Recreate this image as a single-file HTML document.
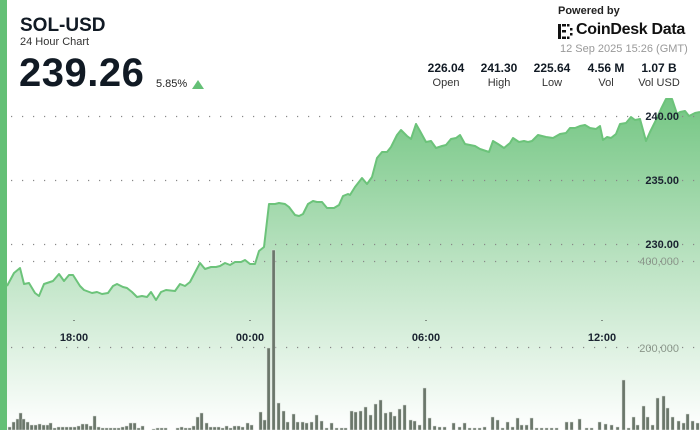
<!DOCTYPE html>
<html><head><meta charset="utf-8"><style>
body{margin:0;width:700px;height:430px;overflow:hidden;background:#fff;font-family:"Liberation Sans",sans-serif;position:relative}
.t{position:absolute;white-space:nowrap;color:#111a24}
</style></head><body>
<div style="position:absolute;left:0;top:0;width:7px;height:430px;background:#64c076"></div>
<svg width="700" height="430" style="position:absolute;left:0;top:0">
<defs><linearGradient id="g" x1="0" y1="0" x2="0" y2="1">
<stop offset="0" stop-color="#74c683"/><stop offset="0.5" stop-color="#bce3c3"/><stop offset="1" stop-color="#ffffff"/></linearGradient></defs>
<path id="p" fill="url(#g)" stroke="none" d="M7,286 L14,273 20,268 24,284 29,283 35,293 39,296 44,284 53,281 59,274 64,281 69,275 73,275 80,286 84,290 92,293 97,292 102,294 108,293 113,286 117,284 123,287 127,288 132,292 137,297 142,296 147,297 151,292 156,300 161,292 166,290 175,291 180,284 185,286 190,282 200,263 205,269 211,267 216,267 220,266 225,263 230,265 235,262 241,262 245,260 250,264 255,264 259,251 264,247 269,204 275,204 279,203 285,204 289,207 295,215 299,216 303,214 308,204 313,201 317,202 322,202 327,208 334,208 339,205 343,196 348,194 350,195 355,187 362,178 367,184 372,177 377,158 382,152 387,152 391,147 397,135 401,130 407,136 411,139 416,124 420,131 426,142 431,141 436,148 442,146 446,145 451,139 456,138 460,135 465,144 475,146 480,149 489,152 493,141 498,144 504,148 510,143 513,138 519,142 524,141 528,142 532,141 538,135 546,137 553,138 560,134 566,133 570,128 575,128 580,126 585,125 590,128 596,129 600,126 603,140 607,137 611,138 616,134 620,124 626,123 631,117 635,120 640,119 646,141 650,132 656,120 661,109 666,99 672,99 677,114 680,112 685,111 689,116 695,113 700,112 L700,430 L7,430 Z"/>
<g stroke="#888" stroke-width="1.2" stroke-dasharray="1.2 9.8">
<line x1="11" y1="116.5" x2="700" y2="116.5"/><line x1="11" y1="180.5" x2="700" y2="180.5"/><line x1="11" y1="244.5" x2="700" y2="244.5"/><line x1="11" y1="261.5" x2="700" y2="261.5"/><line x1="11" y1="347.5" x2="700" y2="347.5"/></g>
<polyline fill="none" stroke="#6cc37a" stroke-width="2" stroke-linejoin="round" points="7,286 14,273 20,268 24,284 29,283 35,293 39,296 44,284 53,281 59,274 64,281 69,275 73,275 80,286 84,290 92,293 97,292 102,294 108,293 113,286 117,284 123,287 127,288 132,292 137,297 142,296 147,297 151,292 156,300 161,292 166,290 175,291 180,284 185,286 190,282 200,263 205,269 211,267 216,267 220,266 225,263 230,265 235,262 241,262 245,260 250,264 255,264 259,251 264,247 269,204 275,204 279,203 285,204 289,207 295,215 299,216 303,214 308,204 313,201 317,202 322,202 327,208 334,208 339,205 343,196 348,194 350,195 355,187 362,178 367,184 372,177 377,158 382,152 387,152 391,147 397,135 401,130 407,136 411,139 416,124 420,131 426,142 431,141 436,148 442,146 446,145 451,139 456,138 460,135 465,144 475,146 480,149 489,152 493,141 498,144 504,148 510,143 513,138 519,142 524,141 528,142 532,141 538,135 546,137 553,138 560,134 566,133 570,128 575,128 580,126 585,125 590,128 596,129 600,126 603,140 607,137 611,138 616,134 620,124 626,123 631,117 635,120 640,119 646,141 650,132 656,120 661,109 666,99 672,99 677,114 680,112 685,111 689,116 695,113 700,112"/>
<g fill="#6b776b" stroke="#d7ddd7" stroke-width="0.5">
<rect x="8" y="427" width="3.2" height="3"/><rect x="12" y="422" width="3.2" height="8"/><rect x="16" y="419" width="3.2" height="11"/><rect x="19" y="413" width="3.2" height="17"/><rect x="22" y="419" width="3.2" height="11"/><rect x="26" y="422" width="3.2" height="8"/><rect x="30" y="425" width="3.2" height="5"/><rect x="34" y="425" width="3.2" height="5"/><rect x="38" y="424" width="3.2" height="6"/><rect x="42" y="425" width="3.2" height="5"/><rect x="46" y="425" width="3.2" height="5"/><rect x="49" y="423" width="3.2" height="7"/><rect x="53" y="428" width="3.2" height="2"/><rect x="57" y="427" width="3.2" height="3"/><rect x="61" y="427" width="3.2" height="3"/><rect x="65" y="427" width="3.2" height="3"/><rect x="69" y="427" width="3.2" height="3"/><rect x="73" y="427" width="3.2" height="3"/><rect x="77" y="426" width="3.2" height="4"/><rect x="81" y="424" width="3.2" height="6"/><rect x="85" y="424" width="3.2" height="6"/><rect x="89" y="426" width="3.2" height="4"/><rect x="93" y="416" width="3.2" height="14"/><rect x="97" y="427" width="3.2" height="3"/><rect x="101" y="428" width="3.2" height="2"/><rect x="105" y="428" width="3.2" height="2"/><rect x="109" y="428" width="3.2" height="2"/><rect x="113" y="428" width="3.2" height="2"/><rect x="117" y="428" width="3.2" height="2"/><rect x="121" y="427" width="3.2" height="3"/><rect x="125" y="426" width="3.2" height="4"/><rect x="129" y="423" width="3.2" height="7"/><rect x="133" y="423" width="3.2" height="7"/><rect x="137" y="428" width="3.2" height="2"/><rect x="141" y="426" width="3.2" height="4"/><rect x="152" y="429" width="3.2" height="1"/><rect x="156" y="428" width="3.2" height="2"/><rect x="160" y="428" width="3.2" height="2"/><rect x="164" y="428" width="3.2" height="2"/><rect x="176" y="428" width="3.2" height="2"/><rect x="180" y="427" width="3.2" height="3"/><rect x="184" y="428" width="3.2" height="2"/><rect x="188" y="428" width="3.2" height="2"/><rect x="192" y="426" width="3.2" height="4"/><rect x="196" y="417" width="3.2" height="13"/><rect x="200" y="413" width="3.2" height="17"/><rect x="205" y="423" width="3.2" height="7"/><rect x="209" y="427" width="3.2" height="3"/><rect x="213" y="427" width="3.2" height="3"/><rect x="217" y="427" width="3.2" height="3"/><rect x="221" y="428" width="3.2" height="2"/><rect x="225" y="426" width="3.2" height="4"/><rect x="229" y="428" width="3.2" height="2"/><rect x="233" y="426" width="3.2" height="4"/><rect x="237" y="426" width="3.2" height="4"/><rect x="241" y="427" width="3.2" height="3"/><rect x="246" y="423" width="3.2" height="7"/><rect x="250" y="425" width="3.2" height="5"/><rect x="259" y="412" width="3.2" height="18"/><rect x="263" y="420" width="3.2" height="10"/><rect x="267" y="348" width="3.2" height="82"/><rect x="272" y="250" width="3.2" height="180"/><rect x="277" y="403" width="3.2" height="27"/><rect x="282" y="411" width="3.2" height="19"/><rect x="286" y="422" width="3.2" height="8"/><rect x="292" y="414" width="3.2" height="16"/><rect x="296" y="422" width="3.2" height="8"/><rect x="301" y="422" width="3.2" height="8"/><rect x="305" y="423" width="3.2" height="7"/><rect x="310" y="422" width="3.2" height="8"/><rect x="315" y="415" width="3.2" height="15"/><rect x="320" y="421" width="3.2" height="9"/><rect x="325" y="428" width="3.2" height="2"/><rect x="330" y="423" width="3.2" height="7"/><rect x="335" y="428" width="3.2" height="2"/><rect x="340" y="428" width="3.2" height="2"/><rect x="344" y="428" width="3.2" height="2"/><rect x="350" y="411" width="3.2" height="19"/><rect x="354" y="412" width="3.2" height="18"/><rect x="359" y="411" width="3.2" height="19"/><rect x="364" y="407" width="3.2" height="23"/><rect x="369" y="415" width="3.2" height="15"/><rect x="374" y="404" width="3.2" height="26"/><rect x="379" y="400" width="3.2" height="30"/><rect x="384" y="413" width="3.2" height="17"/><rect x="389" y="412" width="3.2" height="18"/><rect x="393" y="416" width="3.2" height="14"/><rect x="398" y="409" width="3.2" height="21"/><rect x="403" y="405" width="3.2" height="25"/><rect x="409" y="420" width="3.2" height="10"/><rect x="413" y="421" width="3.2" height="9"/><rect x="418" y="425" width="3.2" height="5"/><rect x="423" y="388" width="3.2" height="42"/><rect x="428" y="418" width="3.2" height="12"/><rect x="433" y="426" width="3.2" height="4"/><rect x="438" y="427" width="3.2" height="3"/><rect x="443" y="427" width="3.2" height="3"/><rect x="452" y="423" width="3.2" height="7"/><rect x="458" y="427" width="3.2" height="3"/><rect x="463" y="423" width="3.2" height="7"/><rect x="468" y="428" width="3.2" height="2"/><rect x="473" y="428" width="3.2" height="2"/><rect x="478" y="428" width="3.2" height="2"/><rect x="483" y="427" width="3.2" height="3"/><rect x="491" y="417" width="3.2" height="13"/><rect x="496" y="420" width="3.2" height="10"/><rect x="501" y="428" width="3.2" height="2"/><rect x="506" y="422" width="3.2" height="8"/><rect x="511" y="427" width="3.2" height="3"/><rect x="516" y="418" width="3.2" height="12"/><rect x="520" y="425" width="3.2" height="5"/><rect x="525" y="425" width="3.2" height="5"/><rect x="530" y="418" width="3.2" height="12"/><rect x="535" y="428" width="3.2" height="2"/><rect x="540" y="428" width="3.2" height="2"/><rect x="545" y="428" width="3.2" height="2"/><rect x="550" y="428" width="3.2" height="2"/><rect x="555" y="428" width="3.2" height="2"/><rect x="565" y="422" width="3.2" height="8"/><rect x="570" y="422" width="3.2" height="8"/><rect x="578" y="419" width="3.2" height="11"/><rect x="585" y="428" width="3.2" height="2"/><rect x="590" y="428" width="3.2" height="2"/><rect x="598" y="422" width="3.2" height="8"/><rect x="604" y="424" width="3.2" height="6"/><rect x="610" y="425" width="3.2" height="5"/><rect x="616" y="427" width="3.2" height="3"/><rect x="622" y="380" width="3.2" height="50"/><rect x="627" y="428" width="3.2" height="2"/><rect x="632" y="417" width="3.2" height="13"/><rect x="636" y="425" width="3.2" height="5"/><rect x="642" y="406" width="3.2" height="24"/><rect x="646" y="417" width="3.2" height="13"/><rect x="651" y="425" width="3.2" height="5"/><rect x="656" y="398" width="3.2" height="32"/><rect x="662" y="396" width="3.2" height="34"/><rect x="666" y="408" width="3.2" height="22"/><rect x="671" y="417" width="3.2" height="13"/><rect x="677" y="421" width="3.2" height="9"/><rect x="682" y="423" width="3.2" height="7"/><rect x="686" y="414" width="3.2" height="16"/><rect x="691" y="421" width="3.2" height="9"/><rect x="696" y="423" width="3.2" height="7"/>
</g>
<g fill="#333"><rect x="73.5" y="320" width="1" height="1"/><rect x="249.5" y="320" width="1" height="1"/><rect x="425.5" y="320" width="1" height="1"/><rect x="601.5" y="320" width="1" height="1"/></g>
<g font-family="Liberation Sans, sans-serif" font-size="11" font-weight="bold" fill="#1a2330" text-anchor="middle">
<text x="74" y="341">18:00</text><text x="250" y="341">00:00</text><text x="426" y="341">06:00</text><text x="602" y="341">12:00</text></g>
<g font-family="Liberation Sans, sans-serif" font-size="11" text-anchor="end">
<text x="679" y="120" font-weight="bold" fill="#1a2330">240.00</text>
<text x="679" y="184" font-weight="bold" fill="#1a2330">235.00</text>
<text x="679" y="248" font-weight="bold" fill="#1a2330">230.00</text>
<text x="679" y="265" fill="#8a968a">400,000</text>
<text x="679" y="352" fill="#8a968a">200,000</text></g>
<g fill="#111">
<rect x="558" y="24" width="3" height="15"/><rect x="562" y="24" width="4" height="2.5"/><rect x="562" y="30" width="4" height="2.5"/><rect x="562" y="36.5" width="4" height="2.5"/><rect x="567" y="24" width="2.5" height="2.5"/><rect x="567" y="36.5" width="2.5" height="2.5"/><rect x="570" y="28" width="2.5" height="2.5"/><rect x="570" y="33" width="2.5" height="2.5"/></g>
<polygon points="192,89 204,89 198,80" fill="#64c076"/>
</svg>
<div class="t" style="left:20px;top:15px;font-size:19px;font-weight:bold">SOL-USD</div>
<div class="t" style="left:20px;top:36px;font-size:11px;color:#333">24 Hour Chart</div>
<div class="t" style="left:19px;top:51px;font-size:40px;font-weight:bold;letter-spacing:0.5px">239.26</div>
<div class="t" style="left:156px;top:78px;font-size:11px;color:#222">5.85%</div>
<div class="t" style="left:558px;top:5px;font-size:11px;font-weight:bold;color:#222">Powered by</div>
<div class="t" style="left:576px;top:21px;font-size:16px;font-weight:bold;color:#111;letter-spacing:-0.3px">CoinDesk Data</div>
<div class="t" style="left:560px;top:43px;font-size:11px;color:#999">12 Sep 2025 15:26 (GMT)</div>
<div class="t" style="left:423px;top:61px;width:46px;text-align:center;font-size:12px;font-weight:bold">226.04</div>
<div class="t" style="left:476px;top:61px;width:46px;text-align:center;font-size:12px;font-weight:bold">241.30</div>
<div class="t" style="left:529px;top:61px;width:46px;text-align:center;font-size:12px;font-weight:bold">225.64</div>
<div class="t" style="left:583px;top:61px;width:46px;text-align:center;font-size:12px;font-weight:bold">4.56 M</div>
<div class="t" style="left:636px;top:61px;width:46px;text-align:center;font-size:12px;font-weight:bold">1.07 B</div>
<div class="t" style="left:423px;top:77px;width:46px;text-align:center;font-size:11px;color:#333">Open</div>
<div class="t" style="left:476px;top:77px;width:46px;text-align:center;font-size:11px;color:#333">High</div>
<div class="t" style="left:529px;top:77px;width:46px;text-align:center;font-size:11px;color:#333">Low</div>
<div class="t" style="left:583px;top:77px;width:46px;text-align:center;font-size:11px;color:#333">Vol</div>
<div class="t" style="left:636px;top:77px;width:46px;text-align:center;font-size:11px;color:#333">Vol USD</div>
</body></html>
